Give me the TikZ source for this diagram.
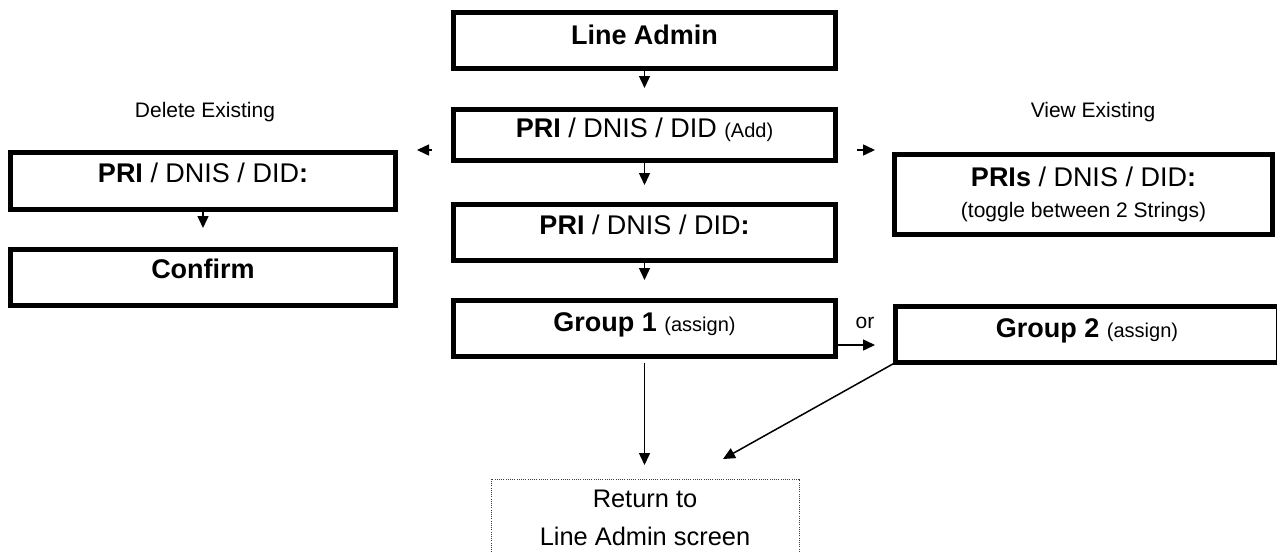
\documentclass[tikz,border=0pt]{standalone}
\usepackage{fontspec}
\setmainfont{Liberation Sans}
\usetikzlibrary{arrows.meta}
\newcommand\szMain{\fontsize{27}{32}\selectfont}
\newcommand\szSmall{\fontsize{20}{24}\selectfont}
\newcommand\szLab{\fontsize{21}{25}\selectfont}
\newcommand\szRet{\fontsize{25.4}{30}\selectfont}
\newcommand\twolines[3]{\vtop{\baselineskip=#1\lineskiplimit=-100pt\halign{\hfil##\hfil\cr#2\cr#3\cr}}}
\tikzset{
  box/.style={draw, line width=5pt, inner sep=0pt, outer sep=0pt, anchor=north, font=\szMain},
  retbox/.style={draw=black!75, line width=1pt, dash pattern=on 1pt off 1.2pt, inner sep=0pt, outer sep=0pt, anchor=north, font=\szRet},
  arr/.style={line width=1.5pt, -{Triangle[length=12pt,width=11pt]}},
  lab/.style={font=\szLab, inner sep=0pt, anchor=base}
}
\begin{document}
\begin{tikzpicture}[x=1pt,y=-1pt]
\useasboundingbox (0,0) rectangle (1277,552);
% centre column
\node[box, minimum width=382pt, text height=31.5pt, text depth=24.5pt] (la) at (644.5,12.5) {\bfseries Line Admin};
\node[box, minimum width=382pt, text height=28.2pt, text depth=22.8pt] (add) at (644.5,109.5) {{\bfseries PRI} / DNIS / DID {\szSmall(Add)}};
\node[box, minimum width=382pt, text height=30.2pt, text depth=25.8pt] (did) at (644.5,204.5) {{\bfseries PRI} / DNIS / DID\textbf{:}};
\node[box, minimum width=382pt, text height=31.2pt, text depth=24.8pt] (g1) at (644.5,300.5) {{\bfseries Group 1} {\szSmall(assign)}};
% left column
\node[box, minimum width=385pt, text height=29.5pt, text depth=27.5pt] (del) at (203,152.5) {{\bfseries PRI} / DNIS / DID\textbf{:}};
\node[box, minimum width=385pt, text height=28.5pt, text depth=27.5pt] (conf) at (203,249.5) {\bfseries Confirm};
% right column
\node[box, minimum width=378pt, text height=31.5pt, text depth=48.5pt] (view) at (1083.5,154.5) {\twolines{31.5pt}{{\bfseries PRIs} / DNIS / DID\textbf{:}}{\szLab(toggle between 2 Strings)}};
\node[box, minimum width=383pt, text height=31.2pt, text depth=24.8pt] (g2) at (1087,306.5) {{\bfseries Group 2} {\szSmall(assign)}};
% return box
\node[retbox, minimum width=308pt, text height=28pt, text depth=58pt] (ret) at (645,479) {\twolines{38pt}{Return to}{Line Admin screen}};
% labels
\node[lab] (dellab) at (205,117.5) {Delete Existing};
\node[lab] (viewlab) at (1093,117.5) {View Existing};
\node[lab] (orlab) at (865,328) {or};
% arrow end points
\coordinate (t1) at (644.5,88);
\coordinate (t2) at (644.5,185);
\coordinate (t3) at (644.5,280);
\coordinate (dl0) at (432,150);
\coordinate (dl1) at (417,150);
\coordinate (dr0) at (857,150);
\coordinate (dr1) at (875,150);
\coordinate (t4) at (203,228);
\coordinate (orp) at (875,345);
\coordinate (t5) at (644.5,465);
\coordinate (t6) at (723,459);
% connectors
\draw[arr] (la.south) -- (t1);
\draw[arr] (add.south) -- (t2);
\draw[arr] (did.south) -- (t3);
\draw[arr] (dl0) -- (dl1);
\draw[arr] (dr0) -- (dr1);
\draw[arr] (del.south) -- (t4);
\draw[arr] (g1.east |- orp) -- (orp);
\draw[arr, shorten <=6pt] (g1.south) -- (t5);
\draw[arr] (g2.south west) -- (t6);
\end{tikzpicture}
\end{document}
